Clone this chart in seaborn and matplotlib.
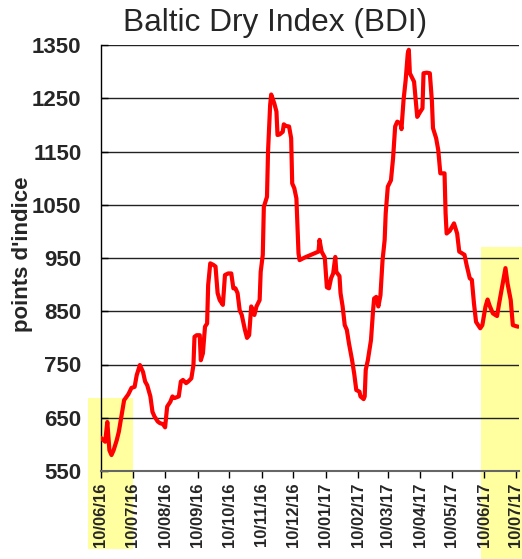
import pandas as pd
import matplotlib
matplotlib.use("Agg")
import matplotlib.pyplot as plt
import matplotlib.dates as mdates
from matplotlib.patches import Rectangle
import seaborn as sns

# BDI values
dates = [
    "2016-06-10", "2016-06-14", "2016-06-16", "2016-06-18", "2016-06-20", "2016-06-22",
    "2016-06-25", "2016-06-27", "2016-06-30", "2016-07-02", "2016-07-06", "2016-07-09",
    "2016-07-12", "2016-07-14", "2016-07-17", "2016-07-20", "2016-07-22", "2016-07-24",
    "2016-07-27", "2016-07-29", "2016-07-31", "2016-08-03", "2016-08-05", "2016-08-08",
    "2016-08-10", "2016-08-12", "2016-08-15", "2016-08-17", "2016-08-19", "2016-08-23",
    "2016-08-25", "2016-08-27", "2016-08-30", "2016-09-01", "2016-09-04", "2016-09-06",
    "2016-09-07", "2016-09-09", "2016-09-12", "2016-09-13", "2016-09-15", "2016-09-17",
    "2016-09-19", "2016-09-20", "2016-09-22", "2016-09-25", "2016-09-27", "2016-09-29",
    "2016-10-01", "2016-10-04", "2016-10-06", "2016-10-09", "2016-10-12", "2016-10-14",
    "2016-10-16", "2016-10-18", "2016-10-20", "2016-10-22", "2016-10-25", "2016-10-27",
    "2016-10-29", "2016-10-31", "2016-11-03", "2016-11-05", "2016-11-08", "2016-11-09",
    "2016-11-11", "2016-11-12", "2016-11-15", "2016-11-16", "2016-11-18", "2016-11-19",
    "2016-11-22", "2016-11-24", "2016-11-25", "2016-11-27", "2016-11-30", "2016-12-01",
    "2016-12-03", "2016-12-06", "2016-12-08", "2016-12-09", "2016-12-11", "2016-12-13",
    "2016-12-14", "2016-12-15", "2016-12-16", "2016-12-21", "2016-12-28", "2017-01-03",
    "2017-01-04", "2017-01-06", "2017-01-09", "2017-01-11", "2017-01-13", "2017-01-15",
    "2017-01-17", "2017-01-19", "2017-01-20", "2017-01-23", "2017-01-24", "2017-01-26",
    "2017-01-28", "2017-01-30", "2017-02-01", "2017-02-04", "2017-02-06", "2017-02-08",
    "2017-02-11", "2017-02-12", "2017-02-15", "2017-02-16", "2017-02-17", "2017-02-19",
    "2017-02-22", "2017-02-24", "2017-02-25", "2017-02-27", "2017-03-01", "2017-03-03",
    "2017-03-05", "2017-03-07", "2017-03-08", "2017-03-10", "2017-03-13", "2017-03-15",
    "2017-03-17", "2017-03-19", "2017-03-22", "2017-03-23", "2017-03-25", "2017-03-27",
    "2017-03-29", "2017-03-30", "2017-03-31", "2017-04-02", "2017-04-04", "2017-04-07",
    "2017-04-10", "2017-04-12", "2017-04-13", "2017-04-16", "2017-04-19", "2017-04-21",
    "2017-04-22", "2017-04-25", "2017-04-27", "2017-04-29", "2017-05-03", "2017-05-04",
    "2017-05-05", "2017-05-08", "2017-05-12", "2017-05-15", "2017-05-17", "2017-05-22",
    "2017-05-24", "2017-05-27", "2017-05-29", "2017-05-31", "2017-06-02", "2017-06-04",
    "2017-06-06", "2017-06-08", "2017-06-11", "2017-06-13", "2017-06-15", "2017-06-18",
    "2017-06-22", "2017-06-24", "2017-06-26", "2017-06-30", "2017-07-02", "2017-07-05",
    "2017-07-07", "2017-07-10", "2017-07-12",
]
values = [
    612, 605, 642, 589, 580, 589,
    608, 624, 659, 683, 694, 706,
    708, 730, 749, 736, 718, 711,
    690, 661, 652, 643, 640, 638,
    632, 671, 680, 690, 687, 690,
    718, 721, 715, 718, 724, 749,
    802, 805, 805, 758, 771, 821,
    827, 899, 940, 937, 934, 884,
    871, 862, 918, 921, 921, 893,
    893, 884, 852, 843, 815, 800,
    805, 859, 843, 859, 871, 924,
    956, 1046, 1065, 1150, 1237, 1257,
    1240, 1225, 1181, 1182, 1187, 1201,
    1198, 1197, 1175, 1090, 1081, 1062,
    1012, 959, 946, 951, 957, 962,
    984, 962, 951, 895, 893, 912,
    921, 952, 924, 916, 884, 859,
    824, 815, 790, 758, 733, 702,
    699, 690, 685, 690, 740, 758,
    796, 852, 874, 877, 859, 880,
    946, 984, 1034, 1084, 1096, 1137,
    1197, 1206, 1203, 1192, 1247, 1284,
    1334, 1341, 1297, 1289, 1281, 1215,
    1225, 1231, 1297, 1298, 1297, 1244,
    1194, 1175, 1153, 1109, 1109, 1034,
    996, 1001, 1015, 996, 962, 956,
    937, 912, 909, 865, 830, 824,
    818, 824, 859, 872, 860, 846,
    841, 865, 887, 931, 902, 871,
    824, 822, 821,
]
y_ticks = [550, 650, 750, 850, 950, 1050, 1150, 1250, 1350]
tick_dates = pd.date_range("2016-06-10", "2017-07-10", freq=pd.DateOffset(months=1))

df = pd.DataFrame({"date": pd.to_datetime(dates), "bdi": values})

sns.set_style("white")
plt.rcParams["font.family"] = ["Liberation Sans", "DejaVu Sans"]

W, H = 522, 559
fig = plt.figure(figsize=(W / 100, H / 100), dpi=100)
ax = fig.add_axes([101 / W, 1 - 471 / H, (518.6 - 101) / W, (471 - 45) / H])
ax.patch.set_alpha(0)

sns.lineplot(data=df, x="date", y="bdi", ax=ax, color="#ff0000", linewidth=3, zorder=3)

ax.set_ylim(550, 1350)
ax.set_yticks(y_ticks)
ax.set_xlim(pd.Timestamp("2016-06-10"), pd.Timestamp("2017-07-12 12:00"))
ax.set_xticks(tick_dates)
ax.xaxis.set_major_formatter(mdates.DateFormatter("%d/%m/%y"))

ax.yaxis.grid(True, color="#222222", linewidth=1)
ax.xaxis.grid(False)
for side in ["top", "right"]:
    ax.spines[side].set_visible(False)
ax.spines["left"].set_color("black")
ax.spines["left"].set_linewidth(1)
ax.spines["bottom"].set_color("#666666")
ax.spines["bottom"].set_linewidth(1.5)

ax.tick_params(axis="y", direction="in", length=5, width=1, color="black",
               pad=14, labelsize=16, left=True)
ax.tick_params(axis="x", direction="out", length=5, width=1, color="black",
               pad=3, labelsize=12, bottom=True, labelrotation=90)
for lab in ax.get_yticklabels() + ax.get_xticklabels():
    lab.set_fontweight("bold")

ax.set_xlabel("")
ax.set_ylabel("points d'indice", fontsize=16, fontweight="bold")
ax.yaxis.label.set_va("center")
ax.yaxis.set_label_coords((23 - 101) / (518.6 - 101), 0.508)

fig.text(275.5 / W, 1 - 31 / H, "Baltic Dry Index (BDI)", fontsize=22.8,
         ha="center", va="baseline")

# yellow highlighter marks, drawn behind the chart like a marker on paper
for x0, y0, x1, y1 in [(88, 398, 133, 549), (481, 247, 522, 559)]:
    fig.patches.append(Rectangle((x0 / W, 1 - y1 / H), (x1 - x0) / W, (y1 - y0) / H,
                                 transform=fig.transFigure, facecolor="#ffffa0",
                                 edgecolor="none", zorder=-1))

fig.savefig("out.png", dpi=100)
